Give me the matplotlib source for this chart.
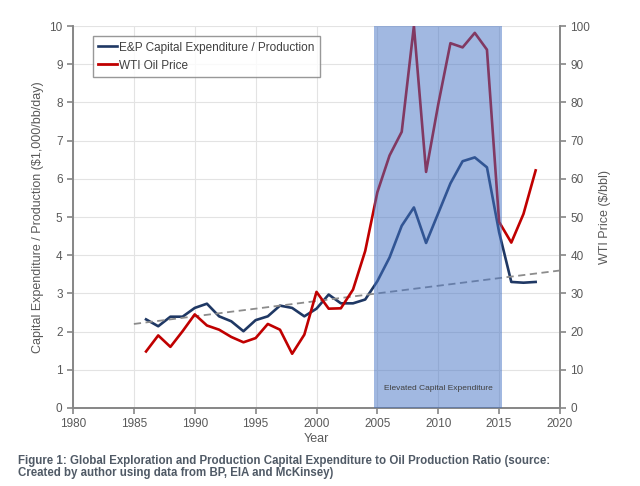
import numpy as np
import matplotlib
matplotlib.use("Agg")
import matplotlib.pyplot as plt

# --- data ---
years = list(range(1986, 2019))
capex_ratio = [2.32, 2.14, 2.39, 2.39, 2.62, 2.73, 2.40, 2.27, 2.01, 2.30,
               2.40, 2.68, 2.62, 2.40, 2.60, 2.97, 2.74, 2.74, 2.84, 3.32,
               3.94, 4.77, 5.25, 4.32, 5.10, 5.88, 6.46, 6.56, 6.30, 4.60,
               3.30, 3.28, 3.30]
wti_price = [14.8, 19.0, 16.0, 20.1, 24.5, 21.6, 20.5, 18.6, 17.2, 18.3,
             22.0, 20.5, 14.2, 19.2, 30.4, 26.0, 26.1, 31.0, 41.1, 56.5,
             66.1, 72.3, 100.0, 61.8, 79.5, 95.5, 94.4, 98.2, 93.8, 48.7,
             43.3, 50.8, 62.2]
trend_years = [1985, 2020]
trend_vals = [2.2, 3.6]
shade_span = [2004.75, 2015.2]
shade_label = "Elevated Capital Expenditure"

caption = ("Figure 1: Global Exploration and Production Capital Expenditure to Oil Production Ratio (source:\n"
           "Created by author using data from BP, EIA and McKinsey)")

plt.rcParams['font.family'] = ['Liberation Sans', 'DejaVu Sans']
grey = '#595959'

fig = plt.figure(figsize=(6.4, 4.86), dpi=100)
ax = fig.add_axes([73/640, 1 - 408/486, (560-73)/640, (408-26)/486])
ax2 = ax.twinx()

ax.plot(years, capex_ratio, color='#1F3864', lw=1.9, zorder=3,
        label='E&P Capital Expenditure / Production')
ax.plot(trend_years, trend_vals, color='#8C8C8C', lw=1.3, ls=(0, (4, 2.5)), zorder=3)
ax2.plot(years, wti_price, color='#C00000', lw=1.9, zorder=3)
# dummy handle so both series share one legend
ax.plot([], [], color='#C00000', lw=2.0, label='WTI Oil Price')

# shaded band drawn on top so lines show through it
ax2.axvspan(shade_span[0], shade_span[1], color='#4472C4', alpha=0.5, lw=0, zorder=5)
ax2.text(sum(shade_span)/2, 5, shade_label, ha='center', va='center',
         fontsize=6, color='#404040', zorder=6)

ax.set_xlim(1980, 2020)
ax.set_ylim(0, 10)
ax2.set_ylim(0, 100)
ax.set_xticks(range(1980, 2021, 5))
ax.set_yticks(range(0, 11))
ax2.set_yticks(range(0, 101, 10))

ax.grid(True, color='#E3E3E3', lw=0.8)
ax.set_axisbelow(True)

for a in (ax, ax2):
    a.spines['top'].set_visible(False)
    for s in ('left', 'right', 'bottom'):
        a.spines[s].set_color('#868686')
        a.spines[s].set_linewidth(1.2)
    a.tick_params(colors='#868686', labelcolor=grey, labelsize=8.5, length=4, width=1.2)

ax.set_xlabel('Year', fontsize=9, color=grey, labelpad=2)
ax.set_ylabel('Capital Expenditure / Production ($1,000/bb/day)', fontsize=9, color=grey, labelpad=4)
ax2.set_ylabel('WTI Price ($/bbl)', fontsize=9, color=grey, labelpad=6)

leg = ax.legend(loc='upper left', bbox_to_anchor=(0.028, 0.99), fontsize=8.5,
                frameon=True, fancybox=False, handlelength=1.6, handletextpad=0.1,
                borderpad=0.5, labelspacing=0.5, labelcolor='#404040')
leg.get_frame().set_edgecolor('#7F7F7F')
leg.get_frame().set_linewidth(1.0)
leg.set_zorder(10)

fig.text(18/640, 1 - 455/486, caption, fontsize=8.3, fontweight='bold',
         color='#505A66', va='top', ha='left', linespacing=1.0)

fig.savefig('out.png', dpi=100)
